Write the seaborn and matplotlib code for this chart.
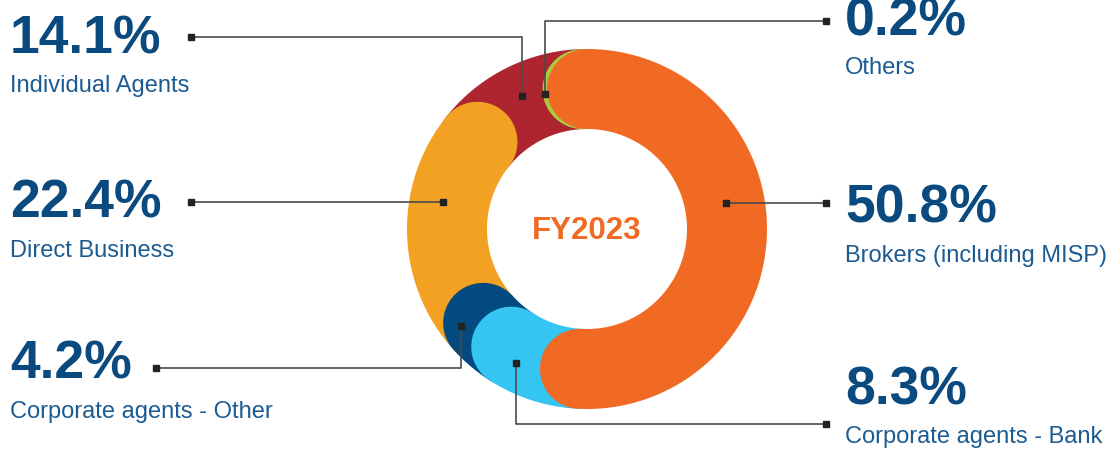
import numpy as np
import matplotlib
matplotlib.use("Agg")
import matplotlib.pyplot as plt
import seaborn as sns

# shares in clockwise order starting at 12 o'clock
categories = ["Brokers (including MISP)", "Corporate agents - Bank", "Corporate agents - Other",
              "Direct Business", "Individual Agents", "Others"]
shares = [50.8, 8.3, 4.2, 22.4, 14.1, 0.2]
share_labels = ["50.8%", "8.3%", "4.2%", "22.4%", "14.1%", "0.2%"]
center_label = "FY2023"

colors = ["#f06a23", "#35c5f2", "#034a80", "#f2a123", "#ae2530", "#a9cb3d"]
draw_order = [4, 5, 3, 2, 1, 0]  # caps overlap the next segment
MIN_SWEEP = 1.8  # degrees, so tiny slices still show a sliver

NUM_COLOR = "#0b4a7e"
TXT_COLOR = "#1c5b92"
LINE_COLOR = "#4a4a4a"

CX, CY = 587, 230
R_IN, R_OUT = 100, 180

# leader layout: path from ring anchor to outer marker, text x, baselines
leaders = {
    "Brokers (including MISP)": dict(path=[(726, 204), (826, 204)], tx=845, yb=(223, 262)),
    "Corporate agents - Bank": dict(path=[(516, 364), (516, 425), (826, 425)], tx=845, yb=(405, 443)),
    "Corporate agents - Other": dict(path=[(461, 327), (461, 369), (156, 369)], tx=10, yb=(379, 418)),
    "Direct Business": dict(path=[(443, 203), (191, 203)], tx=10, yb=(218, 257)),
    "Individual Agents": dict(path=[(522, 97), (522, 38), (191, 38)], tx=10, yb=(53, 92)),
    "Others": dict(path=[(545, 95), (545, 22), (826, 22)], tx=845, yb=(35, 74)),
}


def segment_polygon(a0, a1, r_in, r_out, n=120):
    """Ring segment with round caps; angles in degrees clockwise from top."""
    rm = (r_in + r_out) / 2
    h = (r_out - r_in) / 2
    pts = []
    for a in np.radians(np.linspace(a0, a1, n)):
        pts.append((CX + r_out * np.sin(a), CY - r_out * np.cos(a)))
    a = np.radians(a1)
    rad = np.array([np.sin(a), -np.cos(a)])
    tan = np.array([np.cos(a), np.sin(a)])
    c = np.array([CX, CY]) + rm * rad
    for phi in np.linspace(0, np.pi, 40):
        pts.append(tuple(c + h * (np.cos(phi) * rad + np.sin(phi) * tan)))
    for a in np.radians(np.linspace(a1, a0, n)):
        pts.append((CX + r_in * np.sin(a), CY - r_in * np.cos(a)))
    a = np.radians(a0)
    rad = np.array([np.sin(a), -np.cos(a)])
    tan = np.array([np.cos(a), np.sin(a)])
    c = np.array([CX, CY]) + rm * rad
    for phi in np.linspace(np.pi, 0, 40):
        pts.append(tuple(c + h * (np.cos(phi) * rad - np.sin(phi) * tan)))
    return np.array(pts)


sns.set_theme(style="white")
plt.rcParams["font.family"] = ["Liberation Sans", "DejaVu Sans"]
palette = sns.color_palette(colors)

fig = plt.figure(figsize=(11.09, 4.52), dpi=100)
ax = fig.add_axes([0, 0, 1, 1])
ax.set_xlim(0, 1109)
ax.set_ylim(452, 0)
ax.axis("off")

ends = np.cumsum(shares) / 100 * 360
starts = np.concatenate([[0], ends[:-1]])

for z, i in enumerate(draw_order):
    a0 = min(starts[i], ends[i] - MIN_SWEEP)
    poly = segment_polygon(a0, ends[i], R_IN, R_OUT)
    ax.fill(poly[:, 0], poly[:, 1], color=palette[i], lw=0, zorder=2 + z)

ax.text(CX, CY + 1, center_label, ha="center", va="center", fontsize=22.5,
        fontweight="bold", color="#f06a23", zorder=20)

for cat, lab in zip(categories, share_labels):
    info = leaders[cat]
    xs, ys = zip(*info["path"])
    ax.plot(xs, ys, color=LINE_COLOR, lw=1.2, zorder=30, solid_capstyle="butt")
    ax.plot([xs[0], xs[-1]], [ys[0], ys[-1]], ls="none", marker="s", ms=4.8,
            color="#222222", zorder=31)
    ax.text(info["tx"], info["yb"][0], lab, ha="left", va="baseline",
            fontsize=38.5, fontweight="bold", color=NUM_COLOR)
    ax.text(info["tx"], info["yb"][1], cat, ha="left", va="baseline",
            fontsize=17.0, color=TXT_COLOR)

fig.savefig("out.png", dpi=100)
